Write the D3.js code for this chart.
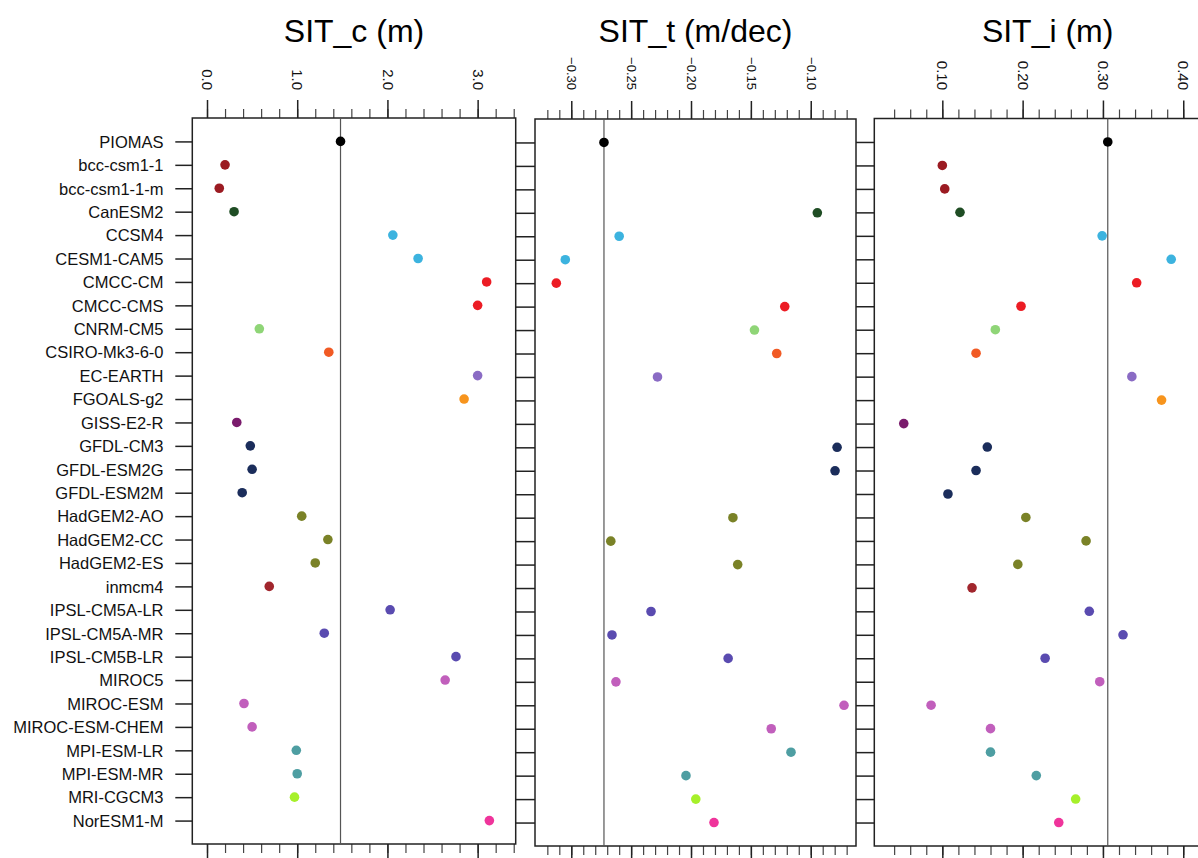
<!DOCTYPE html>
<html>
<head>
<meta charset="utf-8">
<script src="https://cdn.jsdelivr.net/npm/d3@7"></script>
<style>
  html, body { margin: 0; padding: 0; background: #fff; }
  svg { display: block; font-family: "Liberation Sans", Arial, Helvetica, sans-serif; }
</style>
</head>
<body>
<svg id="chart" width="1198" height="858"></svg>
<script>
// ---------------- DATA ----------------
const models = ["PIOMAS","bcc-csm1-1","bcc-csm1-1-m","CanESM2","CCSM4","CESM1-CAM5","CMCC-CM","CMCC-CMS",
  "CNRM-CM5","CSIRO-Mk3-6-0","EC-EARTH","FGOALS-g2","GISS-E2-R","GFDL-CM3","GFDL-ESM2G","GFDL-ESM2M",
  "HadGEM2-AO","HadGEM2-CC","HadGEM2-ES","inmcm4","IPSL-CM5A-LR","IPSL-CM5A-MR","IPSL-CM5B-LR","MIROC5",
  "MIROC-ESM","MIROC-ESM-CHEM","MPI-ESM-LR","MPI-ESM-MR","MRI-CGCM3","NorESM1-M"];

const sitC = [1.48,0.20,0.136,0.30,2.06,2.34,3.10,3.00,0.58,1.35,3.00,2.85,0.33,0.48,0.50,0.39,
  1.05,1.34,1.20,0.69,2.03,1.30,2.76,2.64,0.41,0.50,0.99,1.00,0.97,3.13];

const sitT = [-0.2727,null,null,-0.0945,-0.260,-0.305,-0.3125,-0.1217,-0.147,-0.1284,-0.228,null,null,-0.078,-0.0797,null,
  -0.165,-0.267,-0.161,null,-0.2334,-0.266,-0.169,-0.2627,-0.0722,-0.133,-0.1165,-0.2042,-0.196,-0.1808];

const sitI = [0.306,0.100,0.103,0.122,0.299,0.385,0.342,0.198,0.166,0.142,0.336,0.373,0.052,0.156,0.142,0.107,
  0.204,0.279,0.194,0.137,0.283,0.325,0.228,0.296,0.086,0.160,0.160,0.217,0.266,0.245];

const colors = ["#000000","#9b1b22","#9b1b22","#1f4d24","#3cb3df","#3cb3df","#ec1c24","#ec1c24",
  "#8fd577","#f15a24","#8a6bc4","#f7941d","#7a1b6c","#1b2d5b","#1b2d5b","#1b2d5b",
  "#7a8227","#7a8227","#7a8227","#a1262d","#5a4bb0","#5a4bb0","#5a4bb0","#c15fbc",
  "#c15fbc","#c15fbc","#4e9ea2","#4e9ea2","#a6f02a","#ef349b"];

const titles = ["SIT_c (m)", "SIT_t (m/dec)", "SIT_i (m)"];
const majorC = [0, 1, 2, 3];
const majorT = [-0.30, -0.25, -0.20, -0.15, -0.10];
const majorI = [0.10, 0.20, 0.30, 0.40];
const minorC = d3.range(0, 3.401, 0.2);
const minorT = d3.range(-0.32, -0.0699, 0.01);
const minorI = d3.range(0.04, 0.4201, 0.02);

// ---------------- LAYOUT ----------------
const svg = d3.select("#chart");
const FONT = "\"Liberation Sans\", Arial, Helvetica, sans-serif";

const panels = [
  { title: titles[0], values: sitC, domain: [-0.163, 3.422], x0: 192.3, x1: 515.7, y0: 118, y1: 844,
    major: majorC, minor: minorC, fmt: d3.format(".1f"), labelSize: 15 },
  { title: titles[1], values: sitT, domain: [-0.3303, -0.0622], x0: 535, x1: 856, y0: 119, y1: 846,
    major: majorT, minor: minorT, fmt: d3.format(".2f"), labelSize: 13 },
  { title: titles[2], values: sitI, domain: [0.0153, 0.447], x0: 874.3, x1: 1221, y0: 118.5, y1: 846,
    major: majorI, minor: minorI, fmt: d3.format(".2f"), labelSize: 15 }
];

panels.forEach((p, pi) => {
  const x = d3.scaleLinear().domain(p.domain).range([p.x0, p.x1]);
  const y = d3.scalePoint().domain(models).range([p.y0, p.y1]).padding(1);
  const g = svg.append("g");

  // title
  g.append("text")
    .attr("x", (p.x0 + p.x1) / 2).attr("y", 42)
    .attr("text-anchor", "middle")
    .attr("font-size", 32).attr("fill", "#000")
    .attr("font-family", FONT)
    .text(p.title);

  // top axis: minor ticks
  g.append("g").attr("transform", `translate(0,${p.y0})`)
    .call(d3.axisTop(x).tickValues(p.minor).tickSize(9).tickFormat(""))
    .call(a => a.select(".domain").remove())
    .call(a => a.selectAll("line").attr("stroke", "#444").attr("stroke-width", 1.2));
  // top axis: major ticks + rotated labels
  g.append("g").attr("transform", `translate(0,${p.y0})`)
    .call(d3.axisTop(x).tickValues(p.major).tickSize(18).tickFormat(p.fmt))
    .call(a => a.select(".domain").remove())
    .call(a => a.selectAll("line").attr("stroke", "#222").attr("stroke-width", 1.5))
    .call(a => a.selectAll("text")
      .attr("x", 0).attr("y", 0).attr("dy", "0.36em")
      .attr("text-anchor", "end")
      .attr("transform", `translate(0,${90 - p.y0}) rotate(90)`)
      .attr("font-size", p.labelSize)
      .attr("font-family", FONT)
      .attr("fill", "#111"));

  // bottom axis: minor + major ticks (no labels)
  g.append("g").attr("transform", `translate(0,${p.y1})`)
    .call(d3.axisBottom(x).tickValues(p.minor).tickSize(9).tickFormat(""))
    .call(a => a.select(".domain").remove())
    .call(a => a.selectAll("line").attr("stroke", "#444").attr("stroke-width", 1.2));
  g.append("g").attr("transform", `translate(0,${p.y1})`)
    .call(d3.axisBottom(x).tickValues(p.major).tickSize(18).tickFormat(""))
    .call(a => a.select(".domain").remove())
    .call(a => a.selectAll("line").attr("stroke", "#222").attr("stroke-width", 1.5));

  // left ticks at each row
  const tickLen = pi === 0 ? 17 : (p.x0 - panels[pi - 1].x1);
  g.append("g").attr("transform", `translate(${p.x0},0)`)
    .call(d3.axisLeft(y).tickSize(tickLen).tickFormat(pi === 0 ? (d => d) : ""))
    .call(a => a.select(".domain").remove())
    .call(a => a.selectAll("line").attr("stroke", "#222").attr("stroke-width", 1.5))
    .call(a => a.selectAll("text")
      .attr("x", 163.5 - p.x0).attr("dy", "0.35em")
      .attr("text-anchor", "end")
      .attr("font-size", 16.5)
      .attr("font-family", FONT)
      .attr("fill", "#111"));

  // frame
  g.append("rect")
    .attr("x", p.x0).attr("y", p.y0)
    .attr("width", p.x1 - p.x0).attr("height", p.y1 - p.y0)
    .attr("fill", "none").attr("stroke", "#222").attr("stroke-width", 1.5);

  // reference line at PIOMAS value
  g.append("line")
    .attr("x1", x(p.values[0])).attr("x2", x(p.values[0]))
    .attr("y1", p.y0).attr("y2", p.y1)
    .attr("stroke", "#555").attr("stroke-width", 1.2);

  // dots
  const pts = models.map((m, i) => ({ m, v: p.values[i], c: colors[i] })).filter(d => d.v !== null);
  g.append("g").selectAll("circle").data(pts).join("circle")
    .attr("cx", d => x(d.v)).attr("cy", d => y(d.m))
    .attr("r", 4.8).attr("fill", d => d.c);
});
</script>
</body>
</html>
